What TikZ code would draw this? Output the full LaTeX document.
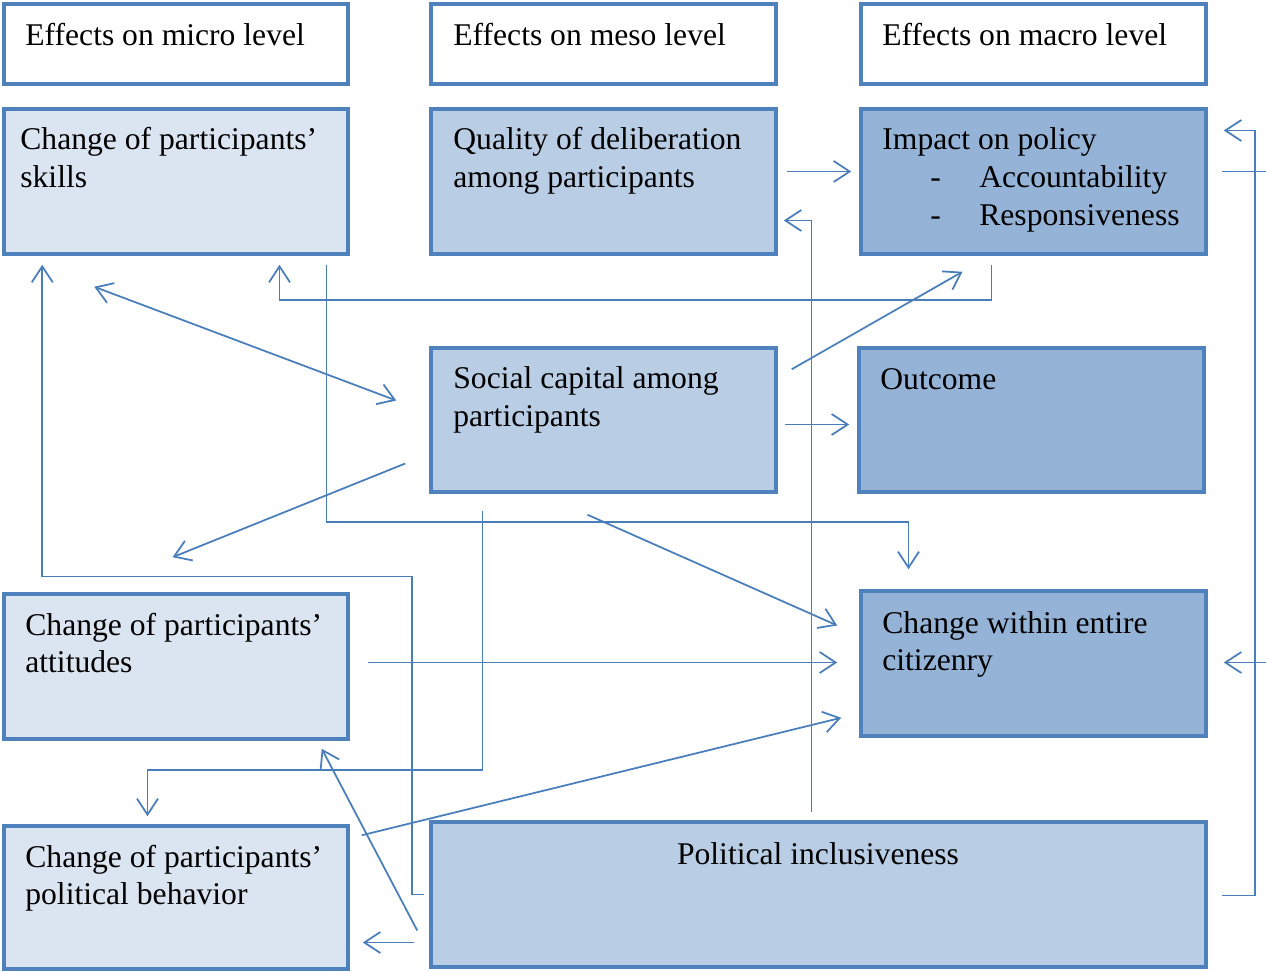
\documentclass[tikz,border=0pt]{standalone}
\usepackage{fontspec}
\setmainfont{Liberation Serif}
\usetikzlibrary{arrows.meta,calc,fit}
\definecolor{bordc}{HTML}{4F81BD}
\definecolor{linec}{HTML}{4A7EBB}
\definecolor{fillA}{HTML}{DBE5F1}
\definecolor{fillB}{HTML}{B9CDE5}
\definecolor{fillC}{HTML}{95B3D7}
\newcommand{\boxlines}[1]{\begin{tabular}[t]{@{}l@{}}#1\end{tabular}}
\newcommand{\itemdash}{\hspace*{0.96cm}\makebox[0.98cm][l]{-}}
\begin{document}
\begin{tikzpicture}[x=0.02cm,y=-0.02cm,
  box/.style={draw=bordc, line width=2pt, inner sep=0pt, rectangle},
  txt/.style={anchor=base west, inner sep=0pt, font=\fontsize{18}{21.5}\selectfont},
  conn/.style={draw=linec, line width=1pt},
  >={Straight Barb[length=0.32cm,width=0.42cm]}]
\useasboundingbox (0,0) rectangle (1266,972);
% headers
\node[box, fill=white, fit={(4,4) (348,84)}] (h1) {};
\node[box, fill=white, fit={(431,4) (776,84)}] (h2) {};
\node[box, fill=white, fit={(861,4) (1206,84)}] (h3) {};
% boxes
\node[box, fill=fillA, fit={(4,109) (348,254)}] (b1) {};
\node[box, fill=fillB, fit={(431,109) (776,254)}] (b2) {};
\node[box, fill=fillC, fit={(861,109) (1206,254)}] (b3) {};
\node[box, fill=fillB, fit={(431,348) (776,492)}] (b4) {};
\node[box, fill=fillC, fit={(859,348) (1204,492)}] (b5) {};
\node[box, fill=fillA, fit={(4,594) (348,739)}] (b6) {};
\node[box, fill=fillC, fit={(861,591) (1206,736)}] (b7) {};
\node[box, fill=fillA, fit={(4,826) (348,969)}] (b8) {};
\node[box, fill=fillB, fit={(431,822) (1206,967)}] (b9) {};
% texts
\node[txt] (th1) at (25,46) {Effects on micro level};
\node[txt] (th2) at (453,46) {Effects on meso level};
\node[txt] (th3) at (882,46) {Effects on macro level};
\node[txt] (t1) at (20,150) {\boxlines{Change of participants’\\skills}};
\node[txt] (t2) at (453,150) {\boxlines{Quality of deliberation\\among participants}};
\node[txt] (t3) at (882,150) {\boxlines{Impact on policy\\\itemdash Accountability\\\itemdash Responsiveness}};
\node[txt] (t4) at (453,389) {\boxlines{Social capital among\\participants}};
\node[txt] (t5) at (880,390) {Outcome};
\node[txt] (t6) at (25,635) {\boxlines{Change of participants’\\attitudes}};
\node[txt] (t7) at (882,633) {\boxlines{Change within entire\\citizenry}};
\node[txt] (t8) at (25,867) {\boxlines{Change of participants’\\political behavior}};
\node[txt, anchor=base] (t9) at (818,864) {Political inclusiveness};
% connectors
\draw[conn,->] ($(b2.east)+(9,-10)$) -- ($(b3.west)+(-8,-10)$);
\draw[conn,->] ($(b9.north)+(-7,-8)$) |- ($(b2.east)+(6,39)$);
\draw[conn,->] ($(b3.south)+(-42,9)$) -- ++(0,35) -| ($(b1.south)+(103.5,9)$);
\draw[conn,<->] ($(b1.south west)+(92,31)$) -- ($(b4.west)+(-33,-19.5)$);
\draw[conn,->] ($(b4.north east)+(14,23)$) -- ($(b3.south)+(-71,16)$);
\draw[conn,->] ($(b4.east)+(7,4.5)$) -- ($(b5.west)+(-8,4.5)$);
\draw[conn,->] ($(b4.west)+(-24,43.5)$) -- ($(b6.north)+(-3.5,-35)$);
\draw[conn,->] ($(b1.south)+(150.5,9)$) |- ($(b7.north)+(-125,-67)$) -- ($(b7.north)+(-125,-20)$);
\draw[conn,->] ($(b4.south)+(-16,21)$) -- ($(b7.west)+(-22,-38)$);
\draw[conn,->] ($(b6.east)+(18,-4)$) -- ($(b7.west)+(-22,-1)$);
\draw[conn,->] ($(b4.south)+(-121,17)$) |- ($(b8.north)+(-28.5,-54)$) -- ($(b8.north)+(-28.5,-8)$);
\draw[conn,->] ($(b9.west)+(-5,0)$) -- ++(-12,0) -- ++(0,-318) -| ($(b1.south west)+(40,9)$);
\draw[conn,->] ($(b9.west)+(-12,36)$) -- ($(b6.south east)+(-28,8)$);
\draw[conn,->] ($(b9.west)+(-15,48)$) -- ($(b8.east)+(13,45)$);
\draw[conn,->] ($(b8.north east)+(12,11)$) -- ($(b7.south west)+(-18,-20)$);
\draw[conn,->] ($(b3.east)+(14,-10)$) -- ++(45,0) |- ($(b7.east)+(16,-1)$);
\draw[conn,->] ($(b9.east)+(14,1)$) -- ++(33,0) |- ($(b3.east)+(16,-51)$);
\end{tikzpicture}
\end{document}
